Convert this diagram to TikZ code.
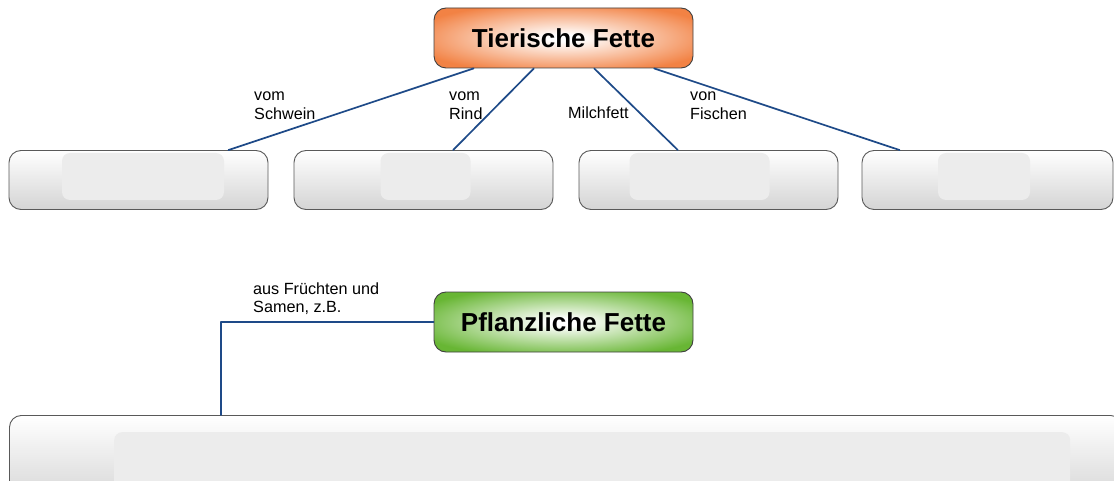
\documentclass[tikz,border=0pt]{standalone}
\usepackage{fontspec}
\setmainfont{Liberation Sans}
\usetikzlibrary{calc}
\definecolor{tierorange}{RGB}{242,130,68}
\definecolor{pflgruen}{RGB}{104,182,52}
\definecolor{astblau}{RGB}{30,74,136}
\definecolor{kastengrau}{RGB}{212,212,212}
\definecolor{innengrau}{RGB}{236,236,236}
\pgfdeclareradialshading{tierglow}{\pgfpoint{0bp}{0bp}}{color(0bp)=(white); color(3bp)=(white); color(30bp)=(tierorange); color(75bp)=(tierorange)}
\pgfdeclareradialshading{pflglow}{\pgfpoint{0bp}{0bp}}{color(0bp)=(white); color(3bp)=(white); color(30bp)=(pflgruen); color(75bp)=(pflgruen)}
\tikzset{
	kopf/.style={draw=black!75, line width=0.9pt, rounded corners=12pt, minimum width=259pt, minimum height=60pt, inner sep=0pt, font=\fontsize{26}{30}\selectfont\bfseries},
	kasten/.style={draw=black!65, line width=0.9pt, rounded corners=12pt, top color=white, bottom color=kastengrau, minimum height=59pt, inner sep=0pt},
	innen/.style={fill=innengrau, rounded corners=8pt, inner sep=0pt},
	ast/.style={draw=astblau, line width=1.7pt},
	lab/.style={align=left, inner sep=0pt, anchor=base west, font=\fontsize{16.2}{18.5}\selectfont}
}
\begin{document}
\begin{tikzpicture}[x=1pt, y=-1pt, line join=round, line cap=round]
			\useasboundingbox (0,0) rectangle (1114,481);
			\clip (0,0) rectangle (1114,481);
			\node[kopf, shading=tierglow] (tier) at (563.5,38) {Tierische Fette};
			\node[kopf, shading=pflglow] (pfl) at (563.5,322) {Pflanzliche Fette};
			% Kästen: Name/Mitte/Breite/innere Mitte/innere Breite
			\foreach \n/\x/\w/\ix/\iw in {schwein/138.5/259/143/162, rind/423.5/259/425.5/90, milch/708.5/259/699.5/140, fisch/987.5/251/984/92}{
				\node[kasten, minimum width=\w pt] (\n) at (\x,180) {};
				\node[innen, minimum width=\iw pt, minimum height=47pt] (\n-in) at (\ix,176.5) {};
			}
			\foreach \n/\f in {schwein/0.154, rind/0.386, milch/0.618, fisch/0.849}
			\draw[ast] ($(tier.south west)!\f!(tier.south east)$) -- ($(\n.north west)!{1-\f}!(\n.north east)$);
			\node[lab] (l-schwein) at (254,119.5) {vom\\Schwein};
			\node[lab] (l-rind) at (449,119.5) {vom\\Rind};
			\node[lab] (l-milch) at (568,119) {Milchfett};
			\node[lab] (l-fisch) at (690,119.5) {von\\Fischen};
			\node[kasten, anchor=north west, minimum width=1113pt, minimum height=90pt] (frucht) at (9,415) {};
			\node[innen, anchor=north west, minimum width=956pt, minimum height=70pt] (frucht-in) at (114,432) {};
			\draw[ast] (pfl.west) -| ($(frucht.north west)+(212,0)$);
			\node[lab] (l-frucht) at (253,312.5) {aus Früchten und\\Samen, z.B.};
\end{tikzpicture}
\end{document}
